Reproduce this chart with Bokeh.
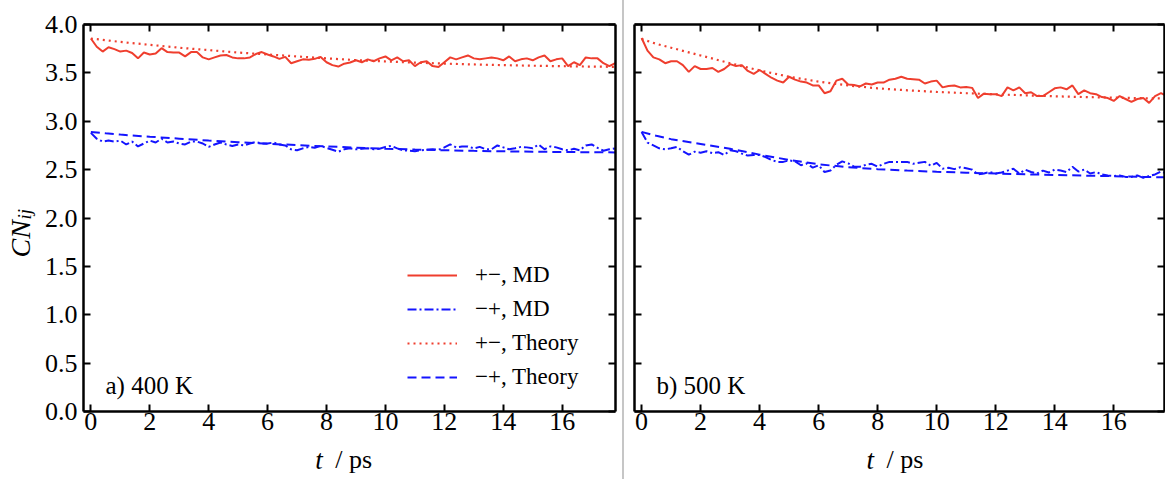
import math
import numpy as np
from bokeh.plotting import figure
from bokeh.models import (Range1d, FixedTicker, LinearAxis, Legend, LegendItem,
                          Label, Div, PrintfTickFormatter)
from bokeh.layouts import row
from bokeh.embed import file_html
from bokeh.resources import INLINE

# ---------------- data ----------------
t_md = np.round(np.arange(0, 17.81, 0.2), 1)
t_theory = [0, 0.5, 1, 2, 3, 4, 5, 6, 7, 8, 9, 10, 11, 12, 13, 14, 15, 16, 17, 17.8]

# 400 K
pm_md_400 = [3.855, 3.77, 3.72, 3.765, 3.745, 3.72, 3.73, 3.705, 3.65, 3.71,
             3.69, 3.70, 3.755, 3.715, 3.71, 3.71, 3.67, 3.715, 3.715, 3.66,
             3.64, 3.66, 3.68, 3.685, 3.66, 3.65, 3.65, 3.66, 3.695, 3.715,
             3.69, 3.67, 3.645, 3.665, 3.60, 3.62, 3.64, 3.635, 3.645, 3.665,
             3.61, 3.58, 3.565, 3.595, 3.607,
             3.63, 3.61, 3.64, 3.62, 3.65, 3.67, 3.63, 3.66, 3.62, 3.63,
             3.57, 3.61, 3.62, 3.57, 3.56, 3.61, 3.66, 3.64, 3.66, 3.68,
             3.65, 3.64, 3.65, 3.66, 3.65, 3.63, 3.67, 3.62, 3.64, 3.65,
             3.63, 3.66, 3.68, 3.62, 3.64, 3.65, 3.57, 3.61, 3.58, 3.66,
             3.65, 3.65, 3.60, 3.57, 3.60]
mp_md_400 = [2.88, 2.82, 2.79, 2.80, 2.79, 2.80, 2.76, 2.79, 2.74, 2.77,
             2.80, 2.78, 2.82, 2.78, 2.79, 2.77, 2.76, 2.79, 2.79, 2.77,
             2.735, 2.76, 2.78, 2.76, 2.745, 2.76, 2.75, 2.77, 2.785, 2.77,
             2.77, 2.78, 2.76, 2.75, 2.71, 2.70, 2.72, 2.735, 2.725, 2.745,
             2.725, 2.705, 2.685, 2.71, 2.72,
             2.71, 2.715, 2.72, 2.71, 2.715, 2.735, 2.745, 2.72, 2.70, 2.695,
             2.69, 2.70, 2.705, 2.71, 2.705, 2.73, 2.76, 2.73, 2.74, 2.74,
             2.72, 2.735, 2.71, 2.71, 2.75, 2.73, 2.71, 2.72, 2.735, 2.73,
             2.72, 2.76, 2.71, 2.74, 2.73, 2.71, 2.70, 2.715, 2.70, 2.75,
             2.76, 2.725, 2.695, 2.71, 2.72]
pm_th_400 = [3.855, 3.838, 3.82, 3.79, 3.76, 3.735, 3.71, 3.69, 3.67, 3.65,
             3.632, 3.618, 3.606, 3.596, 3.587, 3.58, 3.574, 3.569, 3.565, 3.562]
mp_th_400 = [2.89, 2.875, 2.862, 2.84, 2.82, 2.80, 2.784, 2.768, 2.753, 2.74,
             2.727, 2.716, 2.707, 2.70, 2.694, 2.689, 2.685, 2.682, 2.68, 2.678]

# 500 K
pm_md_500 = [3.86, 3.73, 3.66, 3.64, 3.60, 3.62, 3.62, 3.58, 3.51, 3.57,
             3.54, 3.54, 3.55, 3.51, 3.54, 3.59, 3.57, 3.58, 3.52, 3.49,
             3.53, 3.49, 3.45, 3.42, 3.40, 3.46, 3.43, 3.41, 3.40, 3.37,
             3.37, 3.29, 3.31, 3.42, 3.44, 3.38, 3.375, 3.36, 3.39, 3.38,
             3.40, 3.40, 3.43, 3.44, 3.46,
             3.44, 3.435, 3.43, 3.39, 3.41, 3.42, 3.35, 3.365, 3.37, 3.35,
             3.355, 3.345, 3.24, 3.285, 3.28, 3.28, 3.26, 3.35, 3.32, 3.35,
             3.29, 3.30, 3.26, 3.26, 3.30, 3.34, 3.35, 3.33, 3.37, 3.28,
             3.32, 3.29, 3.28, 3.25, 3.24, 3.21, 3.26, 3.23, 3.20, 3.23,
             3.24, 3.19, 3.26, 3.29, 3.26]
mp_md_500 = [2.89, 2.78, 2.75, 2.72, 2.71, 2.72, 2.735, 2.69, 2.655, 2.685,
             2.675, 2.69, 2.67, 2.68, 2.65, 2.70, 2.69, 2.665, 2.645, 2.65,
             2.65, 2.63, 2.60, 2.58, 2.58, 2.595, 2.585, 2.545, 2.565, 2.52,
             2.545, 2.475, 2.49, 2.55, 2.585, 2.565, 2.53, 2.53, 2.55, 2.56,
             2.53, 2.56, 2.58, 2.58, 2.58,
             2.58, 2.56, 2.57, 2.58, 2.54, 2.57, 2.51, 2.52, 2.505, 2.525,
             2.515, 2.50, 2.45, 2.46, 2.475, 2.46, 2.47, 2.49, 2.51, 2.46,
             2.50, 2.475, 2.46, 2.49, 2.47, 2.50, 2.49, 2.475, 2.53, 2.48,
             2.50, 2.46, 2.475, 2.45, 2.44, 2.435, 2.44, 2.425, 2.425, 2.44,
             2.415, 2.435, 2.45, 2.48, 2.46]
pm_th_500 = [3.85, 3.80, 3.76, 3.68, 3.60, 3.525, 3.46, 3.41, 3.37, 3.34,
             3.32, 3.303, 3.29, 3.278, 3.268, 3.258, 3.25, 3.244, 3.238, 3.235]
mp_th_500 = [2.89, 2.85, 2.815, 2.765, 2.715, 2.655, 2.60, 2.555, 2.525, 2.505,
             2.49, 2.478, 2.468, 2.46, 2.452, 2.445, 2.438, 2.432, 2.425, 2.42]

x_ticks = [0, 2, 4, 6, 8, 10, 12, 14, 16]
y_ticks = [0.0, 0.5, 1.0, 1.5, 2.0, 2.5, 3.0, 3.5, 4.0]
legend_labels = ["+\u2212, MD", "\u2212+, MD", "+\u2212, Theory", "\u2212+, Theory"]
panel_labels = ["a) 400 K", "b) 500 K"]

FONT = "Liberation Serif"
RED = "#ef3e2e"
BLUE = "#1414ff"


def style_axis(ax, ticks, show_labels, fmt=None):
    ax.ticker = FixedTicker(ticks=ticks)
    ax.axis_line_width = 2.5
    ax.axis_line_color = "black"
    ax.major_tick_line_width = 2
    ax.major_tick_line_color = "black"
    ax.major_tick_in = 7
    ax.major_tick_out = 0
    ax.minor_tick_line_color = None
    if fmt is not None:
        ax.formatter = fmt
    if show_labels:
        ax.major_label_text_font = FONT
        ax.major_label_text_font_size = "26px"
        ax.major_label_text_color = "black"
    else:
        ax.major_label_text_font_size = "1px"
        ax.major_label_text_color = None
        ax.major_label_standoff = 0


def data_label(text, x, y, size, italic=False, angle=0.0):
    return Label(x=x, y=y, x_units="data", y_units="data", text=text, angle=angle,
                 text_font=FONT, text_font_style="italic" if italic else "normal",
                 text_font_size=size, text_color="black", text_baseline="alphabetic",
                 text_align="left")


def make_panel(width, xr, min_left, min_right, show_ylabels,
               pm_md, mp_md, pm_th, mp_th, panel_label, with_legend):
    p = figure(width=width, height=479, x_range=Range1d(*xr), y_range=Range1d(0, 4),
               output_backend="svg", toolbar_location=None,
               min_border_left=min_left, min_border_right=min_right,
               min_border_top=24, min_border_bottom=68)
    p.outline_line_color = None
    p.grid.visible = False
    p.background_fill_color = "white"
    p.border_fill_color = "white"

    style_axis(p.xaxis[0], x_ticks, True)
    p.xaxis[0].major_label_standoff = 1
    style_axis(p.yaxis[0], y_ticks, show_ylabels, PrintfTickFormatter(format="%.1f"))
    if show_ylabels:
        p.yaxis[0].major_label_standoff = 6
    top = LinearAxis()
    style_axis(top, x_ticks, False)
    right = LinearAxis()
    style_axis(right, y_ticks, False)
    p.add_layout(top, "above")
    p.add_layout(right, "right")

    r1 = p.line(t_md, pm_md, line_color=RED, line_width=2)
    r2 = p.line(t_md, mp_md, line_color=BLUE, line_width=2, line_dash="9 3 2 3")
    r3 = p.line(t_theory, pm_th, line_color=RED, line_width=2.2, line_dash="2 4")
    r4 = p.line(t_theory, mp_th, line_color=BLUE, line_width=2, line_dash="9 5")

    if with_legend:
        items = [LegendItem(label=lab, renderers=[r]) for lab, r in
                 zip(legend_labels, [r1, r2, r3, r4])]
        leg = Legend(items=items, location=(324, 21), glyph_width=50, glyph_height=20,
                     label_height=20, spacing=8, label_standoff=18, padding=0, margin=0,
                     border_line_color=None, background_fill_alpha=0,
                     label_text_font=FONT, label_text_font_size="23px",
                     label_text_color="black")
        p.add_layout(leg)

    p.add_layout(Label(x=22, y=26, x_units="screen", y_units="screen", text=panel_label,
                       text_font=FONT, text_font_size="25px", text_color="black",
                       text_baseline="alphabetic"))
    # roman "/ ps" part of the x axis label in the bottom panel
    p.add_layout(data_label("/ ps", 8.30, -0.50, "26px"), "below")
    return p


p1 = make_panel(622, (-0.25, 17.81), 83, 7, True,
                pm_md_400, mp_md_400, pm_th_400, mp_th_400, panel_labels[0], True)
p2 = make_panel(541, (-0.24, 17.72), 10, 1, False,
                pm_md_500, mp_md_500, pm_th_500, mp_th_500, panel_labels[1], False)

# italic "t" of the x axis labels (kept in side panels with spare room)
p1.add_layout(data_label("t", 7.62, -0.50, "27px", italic=True), "left")
p2.add_layout(data_label("t", 7.62, -0.50, "27px", italic=True), "left")

# y axis label CN_ij (rotated)
p1.add_layout(data_label("CN", -2.40, 1.592, "28px", italic=True, angle=math.pi / 2), "left")
p1.add_layout(data_label("ij", -2.25, 1.985, "19px", italic=True, angle=math.pi / 2), "above")

sep = Div(text="", width=2, height=479, margin=0,
          styles={"background-color": "#c6c6c6"})

layout = row(p1, sep, p2, spacing=0)

open("out.html", "w").write(file_html(layout, INLINE))
